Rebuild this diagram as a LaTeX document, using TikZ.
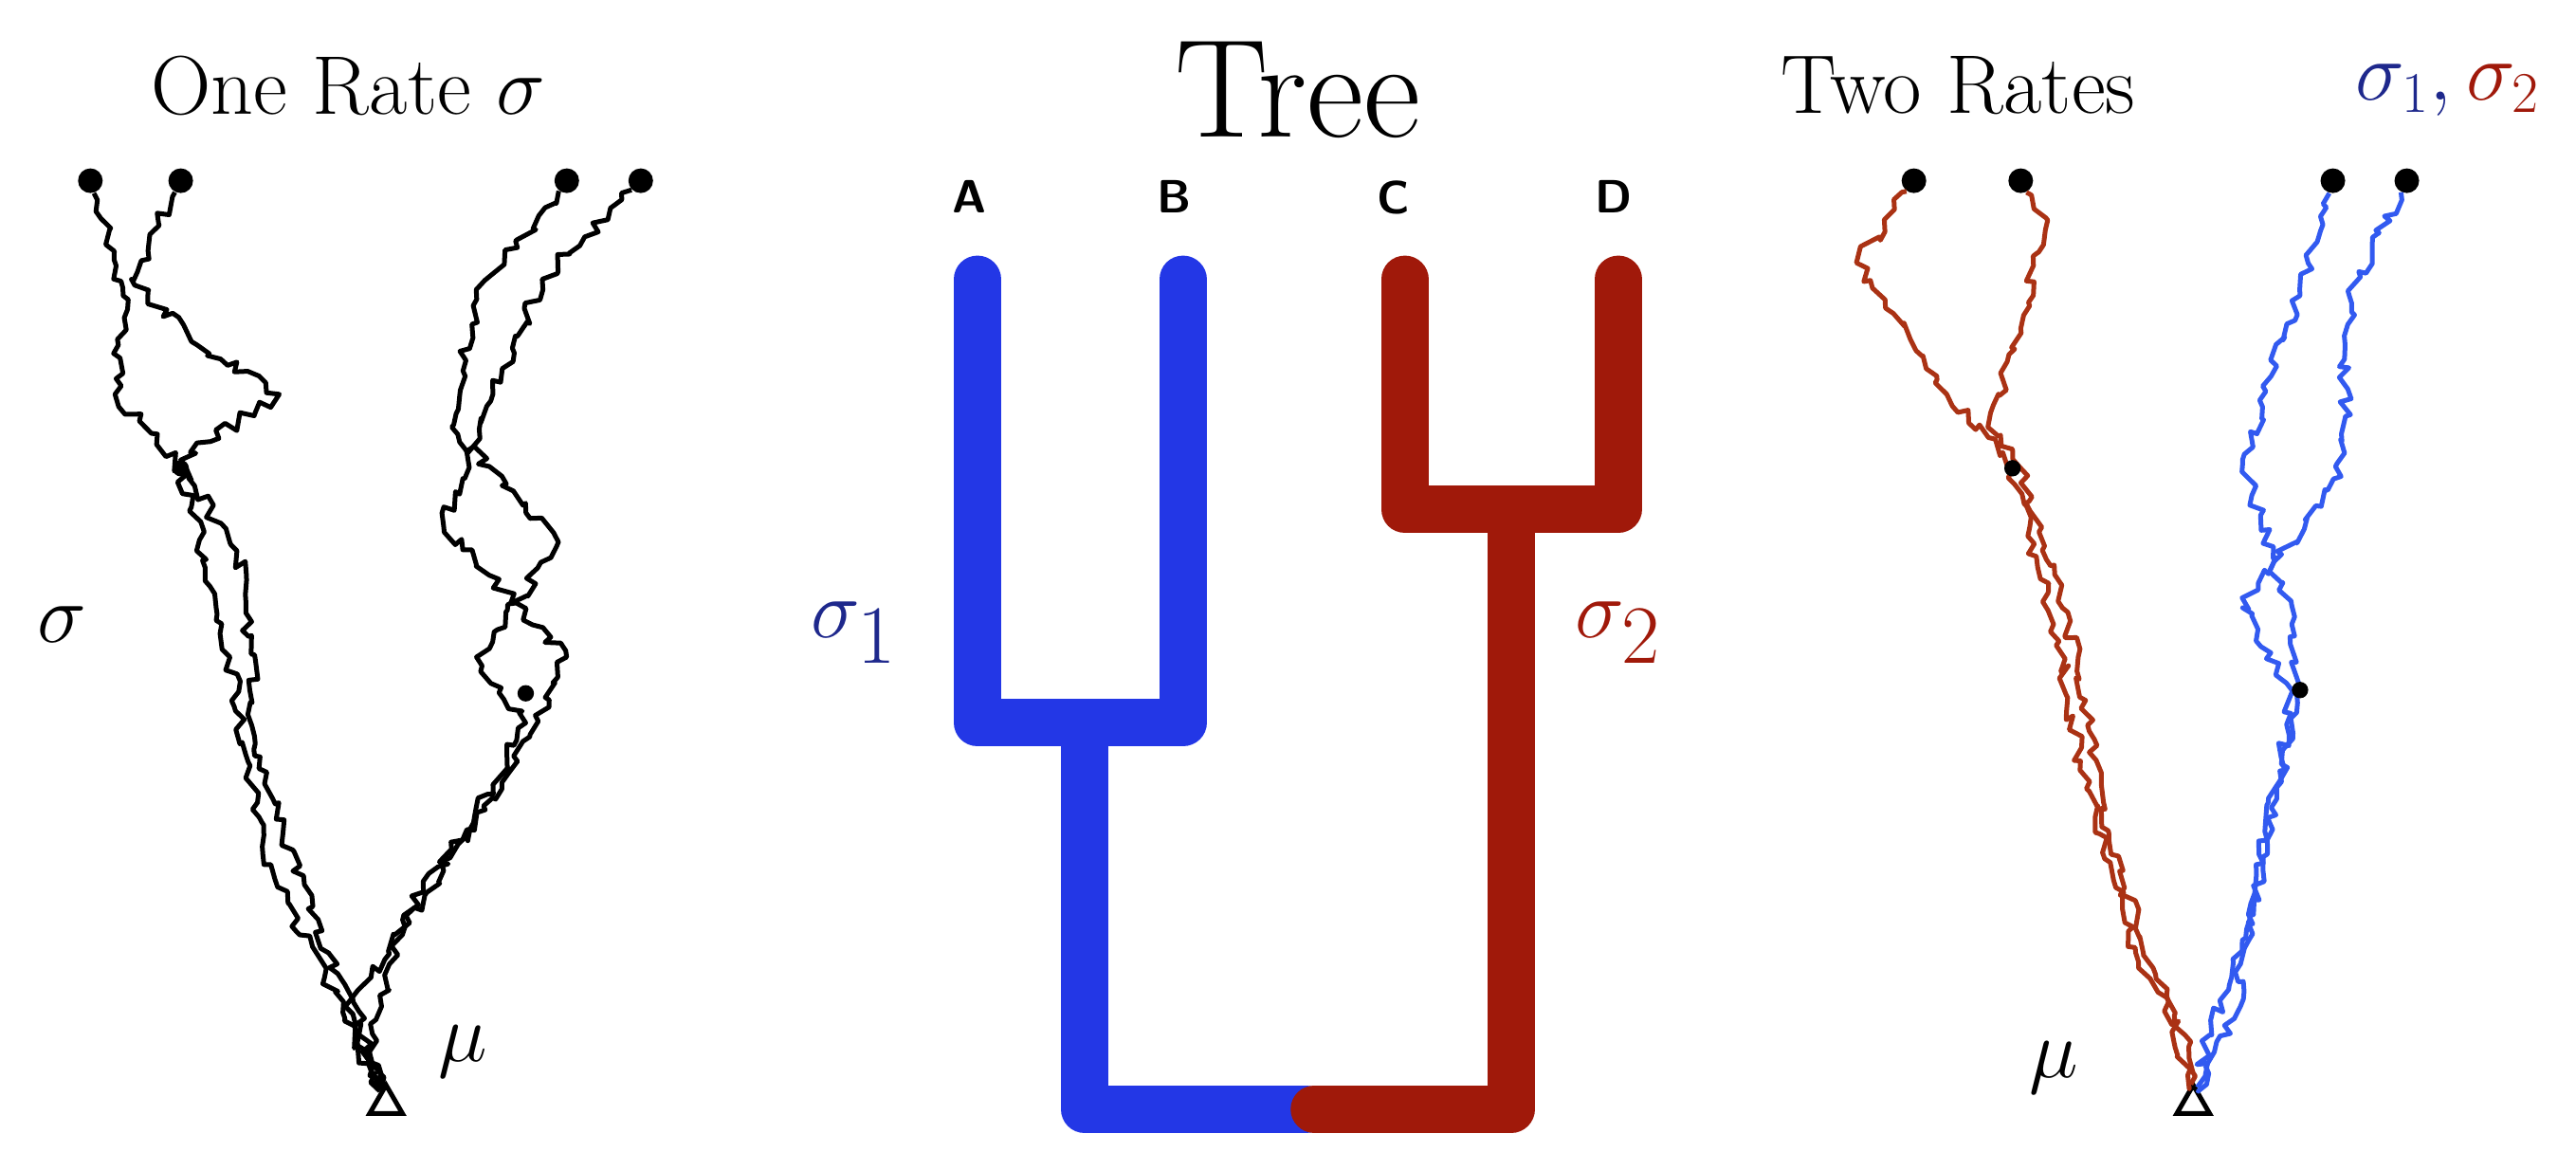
\documentclass[tikz,border=0pt]{standalone}
\usetikzlibrary{decorations.pathmorphing,shapes.geometric}
\definecolor{tblue}{RGB}{35,55,230}
\definecolor{tred}{RGB}{160,25,10}
\definecolor{wblue}{RGB}{50,90,240}
\definecolor{wred}{RGB}{170,50,20}
\definecolor{lblue}{RGB}{30,40,140}
\tikzset{
 br/.style={line width=5mm,line cap=round,line join=round},
 walk/.style={line width=0.5mm,decorate,decoration={random steps,segment length=2.5pt,amplitude=2pt},line join=round},
 tip/.style={circle,fill=black,inner sep=0pt,minimum size=2.6mm},
 root/.style={draw,regular polygon,regular polygon sides=3,inner sep=0pt,minimum size=4mm,line width=0.5mm},
 lab/.style={font=\sffamily\bfseries\fontsize{14}{16}\selectfont},
}
\begin{document}
\begin{tikzpicture}[x=0.1733mm,y=-0.1733mm]
\pgfmathsetseed{7}
\useasboundingbox (0,0) rectangle (1568,701);
% titles
\node (t1) at (212,52) {\fontsize{25}{28}\selectfont One Rate $\sigma$};
\node (t2) at (790,55) {\fontsize{42}{46}\selectfont Tree};
\node (t3) at (1192,52) {\fontsize{25}{28}\selectfont Two Rates};
\node (t4) at (1490,55) {\fontsize{27}{30}\selectfont $\color{lblue}\sigma_1,\color{tred}\sigma_2$};
% tree
\coordinate (a) at (595,170); \coordinate (b) at (720,170);
\coordinate (c) at (855,170); \coordinate (d) at (985,170);
\draw[br,tblue] (a) -- (595,440) -- (720,440) -- (b);
\draw[br,tblue] (660,440) -- (660,675) -- (795,675);
\draw[br,tred] (c) -- (855,310) -- (985,310) -- (d);
\draw[br,tred] (920,310) -- (920,675) -- (800,675);
\node[lab] (la) at (590,120) {A};
\node[lab] (lb) at (715,120) {B};
\node[lab] (lc) at (848,120) {C};
\node[lab] (ld) at (982,120) {D};
\node[text=lblue] (s1) at (520,385) {\fontsize{46}{50}\selectfont$\sigma_1$};
\node[text=tred] (s2) at (985,385) {\fontsize{46}{50}\selectfont$\sigma_2$};
% left walks
\node[root] (r1) at (235,672) {};
\node[tip] (p1) at (55,110) {}; \node[tip] (p2) at (110,110) {};
\node[tip] (p3) at (345,110) {}; \node[tip] (p4) at (390,110) {};
\node (sg) at (38,380) {\fontsize{48}{52}\selectfont$\sigma$};
\node (mu1) at (282,640) {\fontsize{44}{48}\selectfont$\mu$};
\draw[walk] (p1) -- (75,180) -- (70,240) -- (110,285) -- (140,400) -- (160,520) -- (210,620) -- (r1);
\draw[walk] (p2) -- (80,170) -- (120,210) -- (170,240) -- (110,280) -- (150,350) -- (155,460) -- (200,580) -- (r1);
\draw[walk] (p3) -- (290,180) -- (275,260) -- (340,330) -- (290,400) -- (320,440) -- (270,530) -- (215,610) -- (r1);
\draw[walk] (p4) -- (330,170) -- (300,240) -- (270,320) -- (345,400) -- (310,470) -- (245,560) -- (225,640) -- (r1);
% right walks
\node[root] (r2) at (1335,672) {};
\node[tip] (q1) at (1165,110) {}; \node[tip] (q2) at (1230,110) {};
\node[tip] (q3) at (1420,110) {}; \node[tip] (q4) at (1465,110) {};
\node (mu2) at (1250,650) {\fontsize{44}{48}\selectfont$\mu$};
\draw[walk,wred] (q1) -- (1130,160) -- (1185,240) -- (1225,285) -- (1250,380) -- (1270,480) -- (1300,580) -- (1330,630) -- (r2);
\draw[walk,wred] (q2) -- (1245,140) -- (1230,200) -- (1210,260) -- (1230,285) -- (1265,400) -- (1285,520) -- (1320,610) -- (r2);
\draw[walk,wblue] (q3) -- (1400,180) -- (1365,280) -- (1395,380) -- (1400,420) -- (1375,520) -- (1360,620) -- (r2);
\draw[walk,wblue] (q4) -- (1430,180) -- (1425,290) -- (1365,370) -- (1395,420) -- (1380,520) -- (1345,630) -- (r2);
\fill (1225,285) circle (5); \fill (1400,420) circle (5); \fill (110,285) circle (5); \fill (320,422) circle (5);
\end{tikzpicture}
\end{document}
